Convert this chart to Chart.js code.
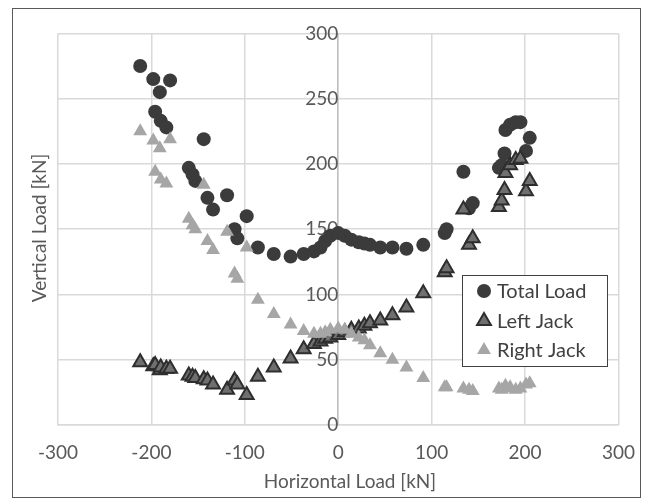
<!DOCTYPE html>
<html>
<head>
<meta charset="utf-8">
<script src="https://cdn.jsdelivr.net/npm/chart.js@4.4.1/dist/chart.umd.min.js"></script>
<style>
  html, body { margin: 0; padding: 0; background: #fff; }
  #wrap { width: 651px; height: 502px; }
</style>
</head>
<body>
<div id="wrap"><canvas id="chart" width="651" height="502"></canvas></div>
<script>
// horizontal load for each measurement, and the three vertical loads read for it
const horizontalLoad = [-212, -198, -191, -196, -190, -184, -180, -160, -156, -153, -144, -140, -134, -119, -111, -108, -98, -86, -69, -51, -37, -26, -19, -14, -8.5, 0, 7, 14, 22, 28, 34, 45, 58, 73, 91, 114, 116, 134, 140, 144, 172, 175, 178, 179, 184, 190, 195, 201, 205]
const totalLoad = [275, 265, 255, 240, 233, 228, 264, 197, 192, 187, 219, 174, 165, 176, 150, 143, 160, 136, 131, 129, 131, 133, 136, 141, 145, 147, 145, 142, 140, 139, 138, 136, 136, 135, 138, 147, 150, 194, 166, 170, 197, 199, 208, 226, 230, 232, 232, 210, 220]
const leftJack = [48, 45, 42, 46, 44, 43, 43, 38, 37, 36, 35, 34, 31, 27, 34, 31, 23, 37, 44, 51, 58, 62, 64, 66, 67, 69, 71, 73, 74, 76, 78, 80, 84, 90, 101, 117, 120, 165, 138, 143, 167, 172, 180, 193, 199, 203, 204, 179, 187]
const rightJack = [225, 218, 212, 194, 188, 185, 219, 158, 153, 150, 184, 141, 134, 148, 116, 112, 136, 96, 85, 77, 72, 70, 70, 71, 73, 74, 73, 70, 67, 65, 61, 55, 50, 44, 36, 29, 29, 28, 27, 26, 28, 27, 28, 30, 29, 27, 28, 31, 32]

const xTicks = [-300, -200, -100, 0, 100, 200, 300]
const yTicks = [0, 50, 100, 150, 200, 250, 300]

const FONT = "Lato"
const TEXT = "#595959"
const GRID = "#d9d9d9"

const pts = ys => horizontalLoad.map((x, i) => ({ x: x, y: ys[i] }))

// legend box sits inside the plot, axis titles are placed like the spreadsheet did
const extras = {
  id: "extras",
  afterDraw(chart) {
    const ctx = chart.ctx
    ctx.save()
    ctx.strokeStyle = "#595959"
    ctx.lineWidth = 1
    ctx.strokeRect(12.5, 8.5, 628, 489)

    ctx.fillStyle = TEXT
    ctx.font = "19px " + FONT
    ctx.textAlign = "center"
    ctx.textBaseline = "middle"
    ctx.fillText("Horizontal Load [kN]", 350, 482)
    ctx.translate(40, 228)
    ctx.rotate(-Math.PI / 2)
    ctx.fillText("Vertical Load [kN]", 0, 0)
    ctx.restore()

    ctx.save()
    ctx.fillStyle = "#fff"
    ctx.fillRect(462, 275, 146, 92)
    ctx.strokeStyle = "#404040"
    ctx.lineWidth = 1
    ctx.strokeRect(462.5, 275.5, 145, 91)
    const rows = [291, 321, 350]
    chart.data.datasets.forEach((ds, i) => {
      const y = rows[i]
      ctx.fillStyle = ds.backgroundColor
      ctx.strokeStyle = ds.borderColor
      ctx.lineWidth = ds.borderWidth
      Chart.helpers.drawPoint(ctx, { pointStyle: ds.pointStyle, radius: ds.pointRadius, borderWidth: ds.borderWidth, rotation: 0 }, 484, y)
      ctx.fillStyle = "#404040"
      ctx.font = "20px " + FONT
      ctx.textAlign = "left"
      ctx.textBaseline = "middle"
      ctx.fillText(ds.label, 497, y + 1)
    })
    ctx.restore()
  }
}

new Chart(document.getElementById("chart"), {
  type: "scatter",
  data: {
    datasets: [{
      label: "Total Load",
      data: pts(totalLoad),
      pointStyle: "circle",
      pointRadius: 7,
      pointHoverRadius: 7,
      backgroundColor: "#3b3b3b",
      borderColor: "#3b3b3b",
      borderWidth: 0,
      order: 2
    }, {
      label: "Left Jack",
      data: pts(leftJack),
      pointStyle: "triangle",
      pointRadius: 8,
      pointHoverRadius: 8,
      backgroundColor: "#6f6f6f",
      borderColor: "#2e2e2e",
      borderWidth: 2,
      order: 1
    }, {
      label: "Right Jack",
      data: pts(rightJack),
      pointStyle: "triangle",
      pointRadius: 8,
      pointHoverRadius: 8,
      backgroundColor: "#a6a6a6",
      borderColor: "#a6a6a6",
      borderWidth: 0,
      order: 0
    }]
  },
  options: {
    responsive: false,
    animation: false,
    layout: { padding: { left: 58, right: 31, top: 33, bottom: 0 } },
    plugins: { legend: { display: false }, tooltip: { enabled: false } },
    scales: {
      x: {
        type: "linear",
        min: -300,
        max: 300,
        afterBuildTicks: s => { s.ticks = xTicks.map(v => ({ value: v })) },
        afterFit: s => { s.height = 77 },
        grid: { color: GRID, lineWidth: 1.5, drawTicks: false },
        border: { color: GRID, width: 1.5 },
        ticks: { color: TEXT, font: { family: FONT, size: 19 }, padding: 16, maxRotation: 0 }
      },
      y: {
        type: "linear",
        position: { x: 0 },
        min: 0,
        max: 300,
        afterBuildTicks: s => { s.ticks = yTicks.map(v => ({ value: v })) },
        grid: { color: GRID, lineWidth: 1.5, drawTicks: false },
        border: { color: "#bfbfbf", width: 1.5 },
        ticks: { color: TEXT, font: { family: FONT, size: 19 }, padding: 22 }
      }
    }
  },
  plugins: [extras]
})
</script>
</body>
</html>
